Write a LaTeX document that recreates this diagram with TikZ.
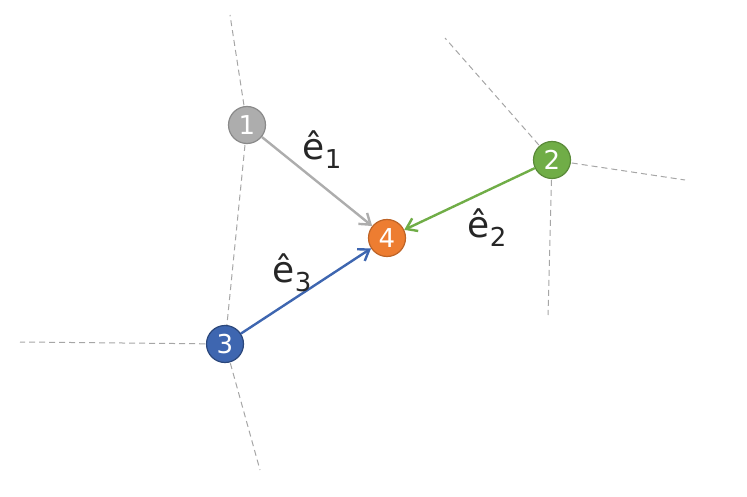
\documentclass[tikz,border=0pt]{standalone}
\usepackage{fontspec}
\setmainfont{DejaVu Sans}
\usetikzlibrary{arrows.meta}
\definecolor{cgray}{HTML}{ADADAD}
\definecolor{cgreen}{HTML}{70AD47}
\definecolor{cblue}{HTML}{3E66B0}
\definecolor{corange}{HTML}{ED7D31}
\newcommand{\evec}[1]{ê\raisebox{-0.25em}{\fontsize{26}{26}\selectfont #1}}
\tikzset{
  pt/.style={circle,minimum size=37pt,inner sep=0pt,line width=1.2pt,text=white,font=\fontsize{26}{26}\selectfont},
  dl/.style={dash pattern=on 6pt off 4pt,draw=gray!70,line width=1pt},
  ar/.style={line width=2.4pt,-{Straight Barb[length=10pt,width=14pt]}},
  lab/.style={font=\fontsize{36}{36}\selectfont,text=black!85}
}
\begin{document}
\begin{tikzpicture}[x=1pt,y=-1pt]
\useasboundingbox (0,0) rectangle (747,497);
\coordinate (a1) at (230,15);
\coordinate (b1) at (445,38);
\coordinate (b2) at (685,180);
\coordinate (b3) at (548,315);
\coordinate (c1) at (20,342);
\coordinate (c2) at (260,470);
\draw[dl] (247,125) -- (a1);
\draw[dl] (247,125) -- (225,344);
\draw[dl] (552,160) -- (b1);
\draw[dl] (552,160) -- (b2);
\draw[dl] (552,160) -- (b3);
\draw[dl] (225,344) -- (c1);
\draw[dl] (225,344) -- (c2);
\node[pt,fill=cgray,draw=cgray!80!black] (n1) at (247,125) {1};
\node[pt,fill=cgreen,draw=cgreen!80!black] (n2) at (552,160) {2};
\node[pt,fill=cblue,draw=cblue!70!black] (n3) at (225,344) {3};
\node[pt,fill=corange,draw=corange!80!black] (n4) at (387,238) {4};
\draw[ar,cgray] (n1) -- (n4);
\draw[ar,cgreen] (n2) -- (n4);
\draw[ar,cblue] (n3) -- (n4);
\node[lab] (l1) at (322,150) {\evec{1}};
\node[lab] (l2) at (487,228) {\evec{2}};
\node[lab] (l3) at (292,273) {\evec{3}};
\end{tikzpicture}
\end{document}
